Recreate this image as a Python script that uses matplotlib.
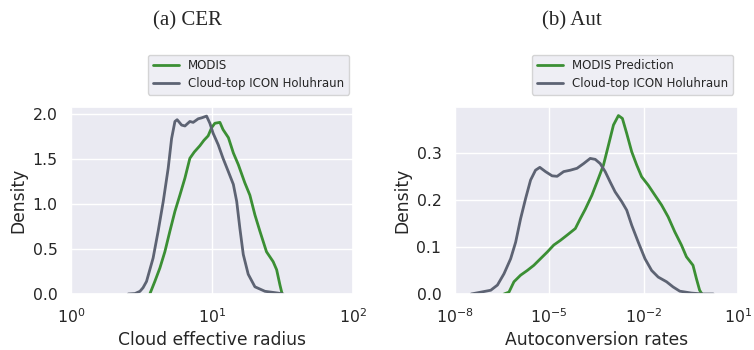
import matplotlib
matplotlib.use("Agg")
import matplotlib.pyplot as plt
import seaborn as sns


# ============================================================
# DATA
# ============================================================
cer_icon_x = [2.55, 2.85, 3.09, 3.25, 3.44, 3.83, 4.16, 4.52, 4.90, 5.18, 5.47, 5.67,
              6.10, 6.44, 6.98, 7.37, 8.00, 8.45, 9.17, 9.68, 10.2, 11.1, 12.0, 13.1,
              14.2, 15.0, 15.8, 16.7, 18.1, 20.2, 23.8, 29.5, 32.0]
cer_icon_y = [0.0, 0.005, 0.03, 0.07, 0.14, 0.40, 0.70, 1.03, 1.40, 1.73, 1.92, 1.94,
              1.88, 1.87, 1.92, 1.91, 1.95, 1.96, 1.98, 1.90, 1.79, 1.66, 1.51, 1.36,
              1.22, 1.03, 0.73, 0.44, 0.22, 0.08, 0.03, 0.01, 0.0]

cer_modis_x = [3.63, 3.94, 4.28, 4.64, 5.04, 5.47, 5.93, 6.44, 6.98, 7.50, 8.22, 8.78,
               9.41, 9.95, 10.5, 11.4, 12.0, 13.1, 14.2, 15.4, 17.1, 18.6, 20.2, 21.9,
               24.4, 27.2, 28.8, 30.4, 31.5]
cer_modis_y = [0.0, 0.14, 0.29, 0.47, 0.70, 0.92, 1.10, 1.29, 1.51, 1.58, 1.65, 1.71,
               1.76, 1.85, 1.90, 1.91, 1.83, 1.74, 1.57, 1.44, 1.24, 1.10, 0.88, 0.70,
               0.47, 0.36, 0.27, 0.10, 0.0]

aut_icon_x = [3.35e-8, 1.40e-7, 2.28e-7, 3.68e-7, 6.0e-7, 8.63e-7, 1.24e-6, 1.79e-6,
              2.57e-6, 3.69e-6, 5.05e-6, 7.64e-6, 1.24e-5, 1.79e-5, 2.89e-5, 4.71e-5,
              7.66e-5, 1.24e-4, 2.01e-4, 2.90e-4, 4.17e-4, 6.0e-4, 8.63e-4, 1.24e-3,
              2.02e-3, 2.90e-3, 4.18e-3, 6.75e-3, 1.10e-2, 1.79e-2, 2.89e-2, 5.32e-2,
              8.59e-2, 0.140, 0.327, 0.762, 1.62]
aut_icon_y = [0.0, 0.008, 0.019, 0.043, 0.075, 0.11, 0.16, 0.203, 0.242, 0.263, 0.269,
              0.26, 0.251, 0.25, 0.26, 0.263, 0.267, 0.277, 0.288, 0.286, 0.277, 0.26,
              0.238, 0.217, 0.196, 0.178, 0.146, 0.11, 0.075, 0.05, 0.036, 0.026, 0.015,
              0.006, 0.002, 0.0, 0.0]

aut_modis_x = [3.68e-7, 5.30e-7, 7.62e-7, 1.24e-6, 2.02e-6, 3.27e-6, 5.31e-6, 8.65e-6,
               1.40e-5, 2.28e-5, 3.70e-5, 6.76e-5, 9.72e-5, 1.40e-4, 2.28e-4, 3.68e-4,
               5.30e-4, 7.62e-4, 1.10e-3, 1.58e-3, 2.11e-3, 2.90e-3, 4.18e-3, 6.01e-3,
               8.63e-3, 1.40e-2, 2.27e-2, 3.70e-2, 5.97e-2, 9.73e-2, 0.158, 0.228,
               0.368, 0.471, 0.598, 0.708]
aut_modis_y = [0.0, 0.004, 0.026, 0.04, 0.05, 0.061, 0.075, 0.089, 0.104, 0.114, 0.125,
               0.139, 0.16, 0.18, 0.21, 0.246, 0.274, 0.316, 0.359, 0.379, 0.373, 0.341,
               0.302, 0.274, 0.249, 0.231, 0.21, 0.189, 0.164, 0.132, 0.104, 0.079,
               0.061, 0.033, 0.008, 0.0]

GREEN = "#3b8f34"
GRAY = "#5d6373"


# ============================================================
# PLOT
# ============================================================
sns.set_theme(style="darkgrid")
plt.rcParams["font.family"] = ["DejaVu Sans"]

fig = plt.figure(figsize=(7.54, 3.5), dpi=100)
ax1 = fig.add_axes([0.094, 0.160, 0.374, 0.534])
ax2 = fig.add_axes([0.603, 0.160, 0.376, 0.534])

ax1.plot(cer_modis_x, cer_modis_y, color=GREEN, lw=2, label="MODIS")
ax1.plot(cer_icon_x, cer_icon_y, color=GRAY, lw=2, label="Cloud-top ICON Holuhraun")
ax1.set_xscale("log")
ax1.set_xlim(1, 100)
ax1.set_ylim(0, 2.08)
ax1.set_yticks([0.0, 0.5, 1.0, 1.5, 2.0])
ax1.set_xlabel("Cloud effective radius", fontsize=12.3)
ax1.set_ylabel("Density", fontsize=12.3)

ax2.plot(aut_modis_x, aut_modis_y, color=GREEN, lw=2, label="MODIS Prediction")
ax2.plot(aut_icon_x, aut_icon_y, color=GRAY, lw=2, label="Cloud-top ICON Holuhraun")
ax2.set_xscale("log")
ax2.set_xlim(1e-8, 10)
ax2.set_ylim(0, 0.397)
ax2.set_xticks([1e-8, 1e-5, 1e-2, 1e1])
ax2.set_yticks([0.0, 0.1, 0.2, 0.3])
ax2.set_xlabel("Autoconversion rates", fontsize=12.3)
ax2.set_ylabel("Density", fontsize=12.3)

for ax, corner in [(ax1, (0.463, 0.729)), (ax2, (0.972, 0.729))]:
    ax.tick_params(labelsize=11.3)
    ax.minorticks_off()
    ax.legend(loc="lower right", bbox_to_anchor=corner, bbox_transform=fig.transFigure,
              borderaxespad=0, fontsize=8.5, handlelength=2.2, labelspacing=0.4)

fig.text(0.248, 0.926, "(a) CER", ha="center", va="baseline",
         family="Liberation Serif", fontsize=15)
fig.text(0.759, 0.926, "(b) Aut", ha="center", va="baseline",
         family="Liberation Serif", fontsize=15)

fig.savefig("out.png", dpi=100)
plt.close(fig)
